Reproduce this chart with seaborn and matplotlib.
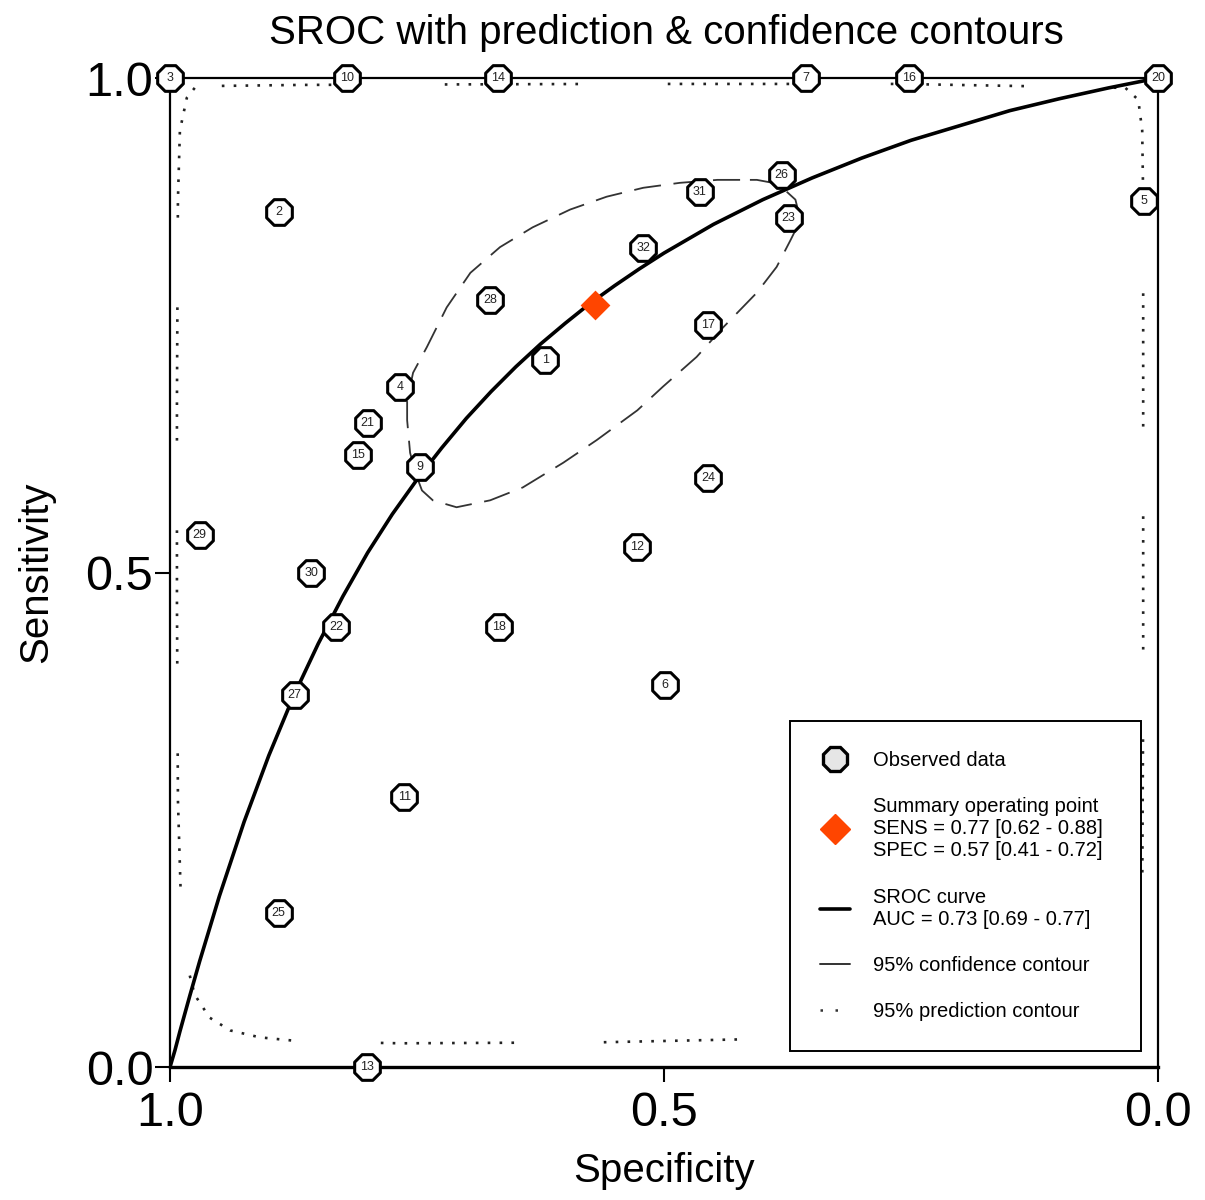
import numpy as np
import pandas as pd
import matplotlib
matplotlib.use("Agg")
import matplotlib.pyplot as plt
from matplotlib.lines import Line2D
import seaborn as sns

sns.set_style("ticks")
plt.rcParams['font.family'] = ['Liberation Sans', 'DejaVu Sans']
plt.rcParams['text.color'] = 'black'
plt.rcParams['axes.labelcolor'] = 'black'
plt.rcParams['xtick.color'] = 'black'
plt.rcParams['ytick.color'] = 'black'

# Observed studies (specificity, sensitivity)
study_ids = ["1", "2", "3", "4", "5", "6", "7", "9", "11", "12", "13", "14", "15", "16", "17",
             "18", "10", "20", "21", "22", "23", "24", "25", "26", "27", "28", "29", "30", "31", "32"]
study_spec = [0.620, 0.890, 1.000, 0.767, 0.014, 0.499, 0.356, 0.747, 0.763, 0.527, 0.801, 0.668, 0.810, 0.252, 0.455,
              0.667, 0.821, 0.000, 0.800, 0.832, 0.374, 0.455, 0.890, 0.381, 0.874, 0.676, 0.970, 0.857, 0.464, 0.521]
study_sens = [0.715, 0.865, 1.000, 0.688, 0.876, 0.386, 1.000, 0.607, 0.273, 0.526, 0.000, 1.000, 0.619, 1.000, 0.750,
              0.445, 1.000, 1.000, 0.651, 0.445, 0.858, 0.596, 0.156, 0.902, 0.376, 0.776, 0.538, 0.500, 0.885, 0.828]

# Summary operating point
summary_spec = [0.57]
summary_sens = [0.77]

# SROC curve
sroc_spec = [1.00, 0.995, 0.99, 0.98, 0.97, 0.95, 0.925, 0.90, 0.875, 0.85, 0.825, 0.80, 0.775, 0.75, 0.725,
             0.70, 0.675, 0.65, 0.625, 0.60, 0.575, 0.55, 0.525, 0.50, 0.45, 0.40, 0.35, 0.30, 0.25, 0.20,
             0.15, 0.10, 0.05, 0.02, 0.00]
sroc_sens = [0.000, 0.017, 0.036, 0.072, 0.107, 0.173, 0.248, 0.315, 0.375, 0.428, 0.476, 0.520, 0.559, 0.594, 0.626,
             0.656, 0.683, 0.708, 0.731, 0.752, 0.772, 0.790, 0.807, 0.823, 0.852, 0.877, 0.899, 0.919, 0.937, 0.952,
             0.967, 0.979, 0.990, 0.996, 1.000]

# 95% confidence contour
conf_spec = [0.423, 0.446, 0.484, 0.521, 0.558, 0.595, 0.633, 0.666, 0.696, 0.720, 0.740, 0.754, 0.760, 0.760,
             0.757, 0.751, 0.745, 0.734, 0.710, 0.676, 0.643, 0.602, 0.568, 0.527, 0.501, 0.467, 0.440, 0.406,
             0.386, 0.372, 0.366, 0.364, 0.367, 0.378, 0.390, 0.406, 0.423]
conf_sens = [0.897, 0.897, 0.894, 0.889, 0.880, 0.867, 0.849, 0.829, 0.803, 0.768, 0.728, 0.702, 0.674, 0.654,
             0.621, 0.599, 0.583, 0.573, 0.566, 0.573, 0.586, 0.611, 0.634, 0.664, 0.688, 0.718, 0.748, 0.783,
             0.809, 0.836, 0.848, 0.865, 0.877, 0.887, 0.894, 0.897, 0.897]

# 95% prediction contour
pred_spec = [0.975, 0.983, 0.990, 0.992, 0.993, 0.993, 0.992, 0.989, 0.984, 0.975, 0.960, 0.939, 0.909, 0.868,
             0.767, 0.565, 0.372, 0.160, 0.059, 0.030, 0.020, 0.016, 0.015, 0.015, 0.015, 0.016, 0.020, 0.033,
             0.261, 0.565, 0.868, 0.949, 0.975]
pred_sens = [0.990, 0.980, 0.947, 0.877, 0.674, 0.472, 0.270, 0.169, 0.108, 0.073, 0.050, 0.037, 0.030, 0.026,
             0.024, 0.025, 0.029, 0.032, 0.039, 0.058, 0.098, 0.169, 0.371, 0.674, 0.877, 0.947, 0.978, 0.990,
             0.994, 0.994, 0.993, 0.992, 0.990]

legend_labels = ["Observed data",
                 "Summary operating point\nSENS = 0.77 [0.62 - 0.88]\nSPEC = 0.57 [0.41 - 0.72]",
                 "SROC curve\nAUC = 0.73 [0.69 - 0.77]",
                 "95% confidence contour",
                 "95% prediction contour"]

df = pd.DataFrame({"id": study_ids, "spec": study_spec, "sens": study_sens})

fig = plt.figure(figsize=(12.05, 12.0), dpi=100)
ax = fig.add_axes([0.1411, 0.1108, 0.8199, 0.8242])

# prediction contour: dotted runs with gaps
sns.lineplot(x=pred_spec, y=pred_sens, sort=False, estimator=None, color="#222222", lw=1.9, ax=ax)
ax.lines[-1].set_linestyle((0, tuple([1, 3.5] * 11 + [1, 34])))

# confidence contour: long dashes
sns.lineplot(x=conf_spec, y=conf_sens, sort=False, estimator=None, color="#333333", lw=1.3, ax=ax)
ax.lines[-1].set_linestyle((0, (15, 7)))

# SROC curve
sns.lineplot(x=sroc_spec, y=sroc_sens, sort=False, estimator=None, color="black", lw=2.6, ax=ax)

# observed studies
sns.scatterplot(data=df, x="spec", y="sens", marker="8", s=400, color="white",
                edgecolor="black", linewidth=2.2, clip_on=False, zorder=5, ax=ax)
for _, r in df.iterrows():
    ax.text(r["spec"], r["sens"], r["id"], ha="center", va="center", fontsize=9,
            color="#222222", zorder=6, clip_on=False)

# summary point
sns.scatterplot(x=summary_spec, y=summary_sens, marker="D", s=230, color="#ff4500",
                edgecolor="#ff4500", linewidth=0, zorder=7, ax=ax)

ax.set_xlim(1, 0)
ax.set_ylim(0, 1)
ax.set_xticks([1.0, 0.5, 0.0])
ax.set_xticklabels(["1.0", "0.5", "0.0"])
ax.set_yticks([0.0, 0.5, 1.0])
ax.set_yticklabels(["0.0", "0.5", "1.0"])
ax.tick_params(axis="both", direction="out", length=11, width=1.5, labelsize=35, color="black")
ax.tick_params(axis="x", pad=6)
ax.tick_params(axis="y", pad=1)
for sp in ax.spines.values():
    sp.set_linewidth(1.6)
    sp.set_color("black")
ax.spines["bottom"].set_linewidth(2.4)

ax.set_xlabel("Specificity", fontsize=29, labelpad=12)
ax.set_ylabel("Sensitivity", fontsize=29, labelpad=22)
fig.text(0.5527, 0.9725, "SROC with prediction & confidence contours", ha="center", va="center", fontsize=29)

handles = [
    Line2D([], [], marker="8", ms=19, mfc="#e6e6e6", mec="black", mew=2.4, ls="none"),
    Line2D([], [], marker="D", ms=15, mfc="#ff4500", mec="#ff4500", ls="none"),
    Line2D([], [], color="black", lw=2.6),
    Line2D([], [], color="#333333", lw=1.4),
    Line2D([], [], color="#333333", lw=1.8, ls=(0, (1, 5))),
]
leg = ax.legend(handles, legend_labels, loc="lower left", bbox_to_anchor=(0.6275, 0.016, 0.3555, 0.333),
                mode="expand", fontsize=14.5, frameon=True, fancybox=False, edgecolor="black",
                framealpha=1, borderpad=1.5, labelspacing=1.35, handlelength=1.5, handletextpad=1.1,
                borderaxespad=0)
leg.get_frame().set_linewidth(1.4)
leg.set_zorder(10)

fig.savefig("out.png", dpi=100)
